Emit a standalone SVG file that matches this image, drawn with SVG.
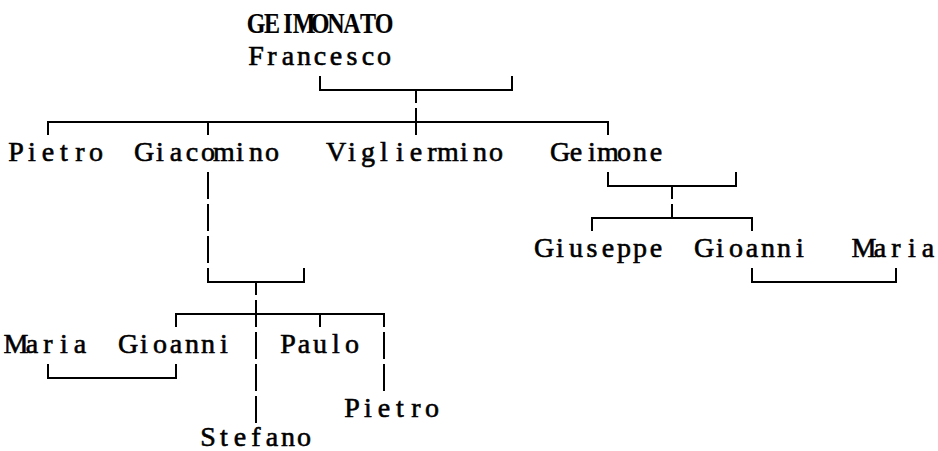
<svg xmlns="http://www.w3.org/2000/svg" width="938" height="451" viewBox="0 0 938 451">
<style>
.t{font-family:"Liberation Serif","DejaVu Serif",serif;font-size:28px;text-anchor:middle;fill:#000;stroke:#000;stroke-width:0.6}
.cap{font-weight:bold;font-size:30px;stroke-width:0.2}
.c{stroke:#000;stroke-width:2;fill:none;stroke-linecap:butt}
</style>
<rect width="938" height="451" fill="#fff"/>
<g id="connectors" class="c">
<path d="M320 76V90H512V76M416 90V103"/>
<path d="M48 135V122H608V135M208 122V135M416 108V135"/>
<path d="M208 172V199M208 204V231M208 236V263M208 268V282H304V268M256 282V295"/>
<path d="M608 172V186H736V172M672 186V199"/>
<path d="M592 231V218H752V231M672 204V218"/>
<path d="M752 268V282H896V268"/>
<path d="M176 327V314H384V327M320 314V327M256 300V327"/>
<path d="M256 332V359M256 364V391M256 396V423"/>
<path d="M384 332V359M384 364V391"/>
<path d="M48 364V378H176V364"/>
</g>
<g id="n-francesco">
<text class="t cap" transform="scale(0.8 1)" x="320 340 360 380 400 420 440 460 480" y="33">GEIMONATO</text>
<text class="t" x="256 272 288 304 320 336 352 368 384" y="65">Francesco</text>
</g>
<g id="n-pietro1"><text class="t" x="16 32 48 64 80 96" y="161">Pietro</text></g>
<g id="n-giacomino"><text class="t" x="144 160 176 192 208 224 240 256 272" y="161">Giacomino</text></g>
<g id="n-vigliermino"><text class="t" x="336 352 368 384 400 416 432 448 464 480 496" y="161">Vigliermino</text></g>
<g id="n-geimone"><text class="t" x="560 576 592 608 624 640 656" y="161">Geimone</text></g>
<g id="n-giuseppe"><text class="t" x="544 560 576 592 608 624 640 656" y="257">Giuseppe</text></g>
<g id="n-gioanni2"><text class="t" x="704 720 736 752 768 784 800" y="257">Gioanni</text></g>
<g id="n-maria2"><text class="t" x="864 880 896 912 928" y="257">Maria</text></g>
<g id="n-maria1"><text class="t" x="16 32 48 64 80" y="353">Maria</text></g>
<g id="n-gioanni1"><text class="t" x="128 144 160 176 192 208 224" y="353">Gioanni</text></g>
<g id="n-paulo"><text class="t" x="288 304 320 336 352" y="353">Paulo</text></g>
<g id="n-pietro2"><text class="t" x="352 368 384 400 416 432" y="417">Pietro</text></g>
<g id="n-stefano"><text class="t" x="208 224 240 256 272 288 304" y="446">Stefano</text></g>
</svg>
